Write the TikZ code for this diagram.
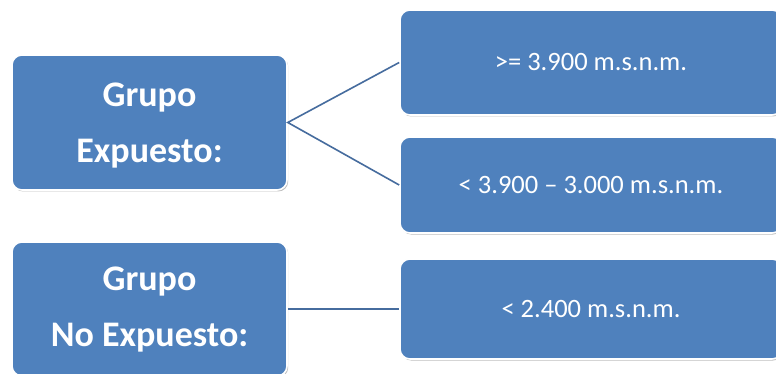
\documentclass[tikz,border=0pt]{standalone}
\usepackage{fontspec}
\setmainfont{Carlito}
\usetikzlibrary{shadows}
\definecolor{boxblue}{RGB}{79,129,189}
\definecolor{linkblue}{RGB}{70,108,158}
\tikzset{
  blbox/.style={draw=white, line width=1.6pt, fill=boxblue, rounded corners=10pt,
    inner sep=0pt,
    drop shadow={shadow xshift=1.2pt, shadow yshift=-1.5pt, fill=black, opacity=0.25}},
  leftbox/.style={blbox, minimum width=275pt},
  rightbox/.style={blbox, minimum width=382pt},
  lefttext/.style={text=white, align=center, inner sep=0pt, font=\bfseries\fontsize{36}{56}\selectfont},
  righttext/.style={text=white, align=center, inner sep=0pt, font=\fontsize{26.5}{30}\selectfont},
  link/.style={draw=linkblue, line width=1.6pt}
}
\begin{document}
\begin{tikzpicture}[x=1pt,y=-1pt]
\useasboundingbox (0,0) rectangle (776,374);
\clip (0,0) rectangle (776,374);
\fill[white] (0,0) rectangle (776,374);
\node[leftbox, minimum height=135pt] (ga) at (149.5,122.5) {};
\node[leftbox, minimum height=134pt] (gb) at (149.5,309) {};
\node[rightbox, minimum height=105pt] (r1) at (591,62.5) {};
\node[rightbox, minimum height=96pt] (r2) at (591,185) {};
\node[rightbox, minimum height=100pt] (r3) at (591,309) {};
\node[lefttext, yshift=-3pt] (gat) at (ga.center) {Grupo\\Expuesto:};
\node[lefttext, yshift=-1pt] (gbt) at (gb.center) {Grupo\\No Expuesto:};
\node[righttext] (r1t) at (r1.center) {>= 3.900 m.s.n.m.};
\node[righttext] (r2t) at (r2.center) {< 3.900 – 3.000 m.s.n.m.};
\node[righttext] (r3t) at (r3.center) {< 2.400 m.s.n.m.};
\draw[link] (r1.west) -- (ga.east) -- (r2.west);
\draw[link] (gb.east) -- (r3.west);
\end{tikzpicture}
\end{document}
